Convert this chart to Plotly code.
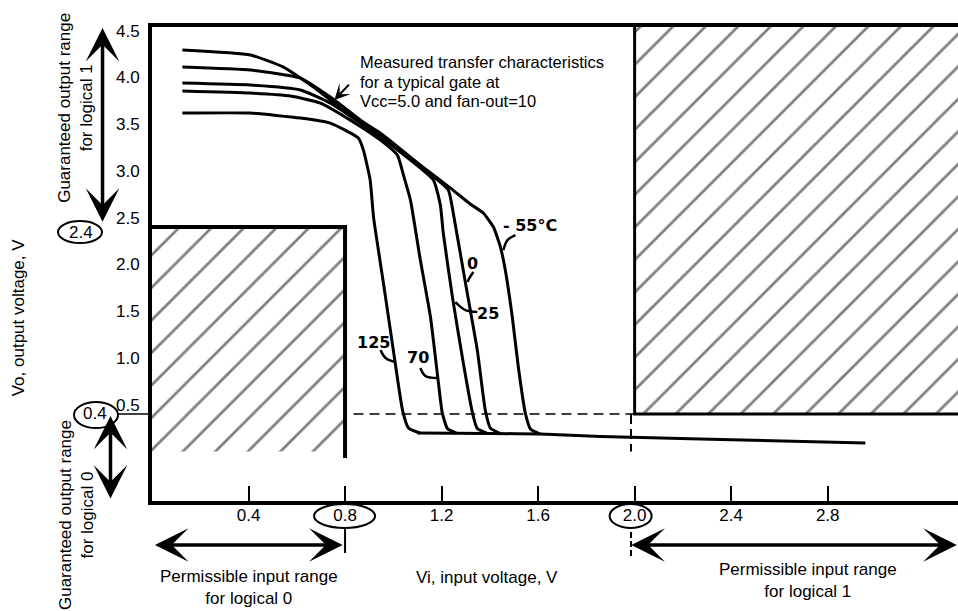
import plotly.graph_objects as go

# ---------------- data ----------------
X_RANGE = [0.0, 3.34]
Y_RANGE = [-0.53, 4.54]

x_tick_vals = [0.4, 0.8, 1.2, 1.6, 2.0, 2.4, 2.8]
x_tick_text = ["0.4", "0.8", "1.2", "1.6", "2.0", "2.4", "2.8"]
y_tick_vals = [0.5, 1.0, 1.5, 2.0, 2.5, 3.0, 3.5, 4.0, 4.5]
y_tick_text = ["0.5", "1.0", "1.5", "2.0", "2.5", "3.0", "3.5", "4.0", "4.5"]

# logic thresholds
VIL, VIH = 0.8, 2.0
VOL, VOH = 0.4, 2.4

# transfer curves (Vi, Vo) per temperature
vi_m55 = [0.126, 0.408, 0.545, 0.686, 0.781, 0.947, 1.112, 1.237, 1.319, 1.373, 1.415,
          1.444, 1.464, 1.493, 1.518, 1.547, 1.568, 1.609]
vo_m55 = [4.293, 4.240, 4.111, 3.866, 3.673, 3.405, 3.063, 2.817, 2.646, 2.550, 2.400,
          2.186, 1.940, 1.438, 0.903, 0.411, 0.240, 0.186]

vi_0 = [0.126, 0.408, 0.615, 0.739, 0.864, 1.029, 1.174, 1.228, 1.257, 1.299, 1.348,
        1.381, 1.402, 1.444]
vo_0 = [4.111, 4.079, 3.994, 3.791, 3.544, 3.224, 2.924, 2.796, 2.421, 1.801, 1.084,
        0.443, 0.250, 0.192]

vi_25 = [0.126, 0.408, 0.615, 0.739, 0.864, 1.029, 1.166, 1.195, 1.207, 1.245, 1.290,
         1.328, 1.348, 1.390]
vo_25 = [3.940, 3.919, 3.866, 3.726, 3.512, 3.202, 2.903, 2.635, 2.336, 1.651, 0.945,
         0.411, 0.245, 0.193]

vi_70 = [0.126, 0.408, 0.574, 0.698, 0.822, 0.947, 1.017, 1.042, 1.071, 1.112, 1.154,
         1.187, 1.203, 1.224, 1.262]
vo_70 = [3.855, 3.833, 3.801, 3.726, 3.544, 3.330, 3.170, 2.956, 2.689, 2.047, 1.438,
         0.732, 0.411, 0.245, 0.194]

vi_125 = [0.126, 0.408, 0.615, 0.739, 0.855, 0.876, 0.904, 0.918, 0.959, 1.000, 1.038,
          1.063, 1.110]
vo_125 = [3.619, 3.619, 3.566, 3.512, 3.352, 3.224, 2.903, 2.507, 1.801, 1.084, 0.443,
          0.250, 0.197]

# common low-output tail shared by all curves
vi_tail = [1.100, 1.400, 1.609, 1.858, 2.272, 2.956]
vo_tail = [0.197, 0.193, 0.186, 0.160, 0.133, 0.090]

# temperature labels and their leader lines
temp_labels = ["- 55°C", "0", "25", "125", "70"]
temp_label_x = [1.565, 1.328, 1.394, 0.918, 1.104]
temp_label_y = [2.421, 2.015, 1.480, 1.170, 1.000]
leader_x = [[1.506, 1.473, 1.456], [1.332, 1.318, 1.307], [1.348, 1.299, 1.257],
            [0.947, 0.968, 1.009], [1.112, 1.133, 1.183]]
leader_y = [[2.314, 2.261, 2.153], [1.919, 1.866, 1.812], [1.491, 1.512, 1.598],
            [1.084, 1.000, 0.956], [0.892, 0.807, 0.785]]

note_lines = ["Measured transfer characteristics", "for a typical gate at",
              "Vcc=5.0 and fan-out=10"]
note_x = 0.855
note_y = [4.166, 3.952, 3.749]

FONT = "Liberation Sans, Arial, Helvetica, sans-serif"
HAND = "DejaVu Sans, sans-serif"

# plot-area geometry (for placing things outside the axes)
ML, MR, MT, MB = 152, 0, 27, 110
W, H = 958, 611
PW, PH = W - ML - MR, H - MT - MB
KX = PW / (X_RANGE[1] - X_RANGE[0])
KY = PH / (Y_RANGE[1] - Y_RANGE[0])


def xp(v):
    return (v - X_RANGE[0]) / (X_RANGE[1] - X_RANGE[0])


def yp(v):
    return (v - Y_RANGE[0]) / (Y_RANGE[1] - Y_RANGE[0])


fig = go.Figure()

# ---------------- hatched regions ----------------
hatch = dict(shape="/", size=23, solidity=0.12, fgcolor="black", bgcolor="white")
fig.add_trace(go.Scatter(x=[0, VIL, VIL, 0, 0], y=[0, 0, VOH, VOH, 0], fill="toself",
                         fillcolor="white", fillpattern=hatch, mode="lines",
                         line=dict(width=0), hoverinfo="skip", showlegend=False))
fig.add_trace(go.Scatter(x=[VIH, X_RANGE[1], X_RANGE[1], VIH, VIH],
                         y=[VOL, VOL, Y_RANGE[1], Y_RANGE[1], VOL], fill="toself",
                         fillcolor="white", fillpattern=hatch, mode="lines",
                         line=dict(width=0), hoverinfo="skip", showlegend=False))
# region borders
fig.add_trace(go.Scatter(x=[0, VIL, VIL], y=[VOH, VOH, -0.07], mode="lines",
                         line=dict(color="black", width=4), hoverinfo="skip", showlegend=False))
fig.add_trace(go.Scatter(x=[VIH, VIH, X_RANGE[1]], y=[Y_RANGE[1], VOL, VOL], mode="lines",
                         line=dict(color="black", width=3), hoverinfo="skip", showlegend=False))
# dashed VOL line and VIH drop
fig.add_trace(go.Scatter(x=[0.835, VIH], y=[VOL, VOL], mode="lines",
                         line=dict(color="black", width=1.5, dash="10px,6px"),
                         hoverinfo="skip", showlegend=False))
fig.add_trace(go.Scatter(x=[VIH - 0.015, VIH - 0.015], y=[VOL, 0.0], mode="lines",
                         line=dict(color="black", width=2, dash="10px,5px"),
                         hoverinfo="skip", showlegend=False))

# ---------------- transfer curves ----------------
for vx, vy, name in [(vi_m55, vo_m55, "-55"), (vi_0, vo_0, "0"), (vi_25, vo_25, "25"),
                     (vi_70, vo_70, "70"), (vi_125, vo_125, "125"),
                     (vi_tail, vo_tail, "tail")]:
    fig.add_trace(go.Scatter(x=vx, y=vy, mode="lines", name=name,
                             line=dict(color="black", width=3, shape="spline", smoothing=0.45),
                             showlegend=False))

for lx, ly in zip(leader_x, leader_y):
    fig.add_trace(go.Scatter(x=lx, y=ly, mode="lines",
                             line=dict(color="black", width=2.5, shape="spline"),
                             hoverinfo="skip", showlegend=False))

annotations = []
for t, x, y in zip(temp_labels, temp_label_x, temp_label_y):
    annotations.append(dict(x=x, y=y, xref="x", yref="y", text="<b>%s</b>" % t,
                            showarrow=False, xanchor="center", yanchor="middle",
                            font=dict(family=HAND, size=16, color="black")))

for t, y in zip(note_lines, note_y):
    annotations.append(dict(x=note_x, y=y, xref="x", yref="y", text=t, showarrow=False,
                            xanchor="left", yanchor="middle",
                            font=dict(family=FONT, size=16.5, color="black")))
# note arrow
annotations.append(dict(x=0.756, y=3.76, ax=0.822, ay=3.94, xref="x", yref="y",
                        axref="x", ayref="y", text="", showarrow=True, arrowhead=3,
                        arrowsize=1.3, arrowwidth=2, arrowcolor="black"))


# ---------------- range arrows (paper coordinates, outside the axes) ----------------
def dbl_arrow(x0, y0, x1, y1):
    return dict(x=xp(x1), y=yp(y1), ax=(x0 - x1) * KX, ay=-(y0 - y1) * KY,
                xref="paper", yref="paper", text="", showarrow=True,
                arrowhead=3, startarrowhead=3, arrowside="end+start",
                arrowsize=1.6, startarrowsize=1.6, arrowwidth=3.5, arrowcolor="black",
                standoff=0, startstandoff=0)


annotations.append(dbl_arrow(-0.205, VOH + 0.04, -0.205, 4.53))
annotations.append(dbl_arrow(-0.172, -0.52, -0.172, VOL - 0.02))
annotations.append(dbl_arrow(0.006, -1.0, VIL - 0.01, -1.0))
annotations.append(dbl_arrow(VIH - 0.02, -1.0, X_RANGE[1] - 0.005, -1.0))


def txt(x, y, t, angle=0, yshift=0):
    return dict(x=xp(x), y=yp(y), xref="paper", yref="paper", text=t, textangle=angle,
                yshift=yshift, showarrow=False, xanchor="center", yanchor="middle",
                font=dict(family=FONT, size=17, color="black"))


annotations += [
    txt(0.40, -1.46, "Permissible input range<br>for logical 0"),
    txt(2.72, -1.375, "Permissible input range<br>for logical 1"),
    txt(1.39, -1.343, "Vi, input voltage, V"),
    txt(-0.553, 1.43, "Vo, output voltage, V", angle=-90),
    txt(-0.317, 3.67, "Guaranteed output range<br>for logical 1", angle=-90),
    txt(-0.315, -0.68, "Guaranteed output range<br>for logical 0", angle=-90),
    txt(-0.296, VOH, "2.4", yshift=-5),
    txt(-0.235, VOL, "0.4", yshift=1),
]

# ---------------- shapes outside the plot ----------------
shapes = [
    # ellipses around x tick labels
    dict(type="circle", xref="x", yref="paper", xsizemode="pixel", ysizemode="pixel",
         xanchor=VIL, yanchor=0, x0=-31, x1=30, y0=-3, y1=-27, line=dict(color="black", width=2)),
    dict(type="circle", xref="x", yref="paper", xsizemode="pixel", ysizemode="pixel",
         xanchor=VIH, yanchor=0, x0=-25, x1=17, y0=-3, y1=-27, line=dict(color="black", width=2)),
    # ellipses around y labels
    dict(type="circle", xref="paper", yref="y", xsizemode="pixel", ysizemode="pixel",
         xanchor=0, yanchor=VOH, x0=-94, x1=-50, y0=-16, y1=6, line=dict(color="black", width=2)),
    dict(type="circle", xref="paper", yref="y", xsizemode="pixel", ysizemode="pixel",
         xanchor=0, yanchor=VOL, x0=-78, x1=-34, y0=-14, y1=12, line=dict(color="black", width=2)),
    # VOL leader to axis
    dict(type="line", xref="paper", yref="y", xsizemode="pixel", xanchor=0, x0=-34, x1=0,
         y0=VOL, y1=VOL, line=dict(color="black", width=1.5)),
    # ticks below ellipses
    dict(type="line", xref="x", yref="paper", ysizemode="pixel", yanchor=0, x0=VIL, x1=VIL,
         y0=-27, y1=-52, line=dict(color="black", width=2)),
    dict(type="line", xref="x", yref="paper", ysizemode="pixel", yanchor=0, x0=VIH - 0.015,
         x1=VIH - 0.015, y0=-31, y1=-55, line=dict(color="black", width=2, dash="6px,3px")),
]

fig.update_layout(
    width=W, height=H,
    margin=dict(l=ML, r=MR, t=MT, b=MB, autoexpand=False),
    paper_bgcolor="white", plot_bgcolor="white",
    font=dict(family=FONT, size=17, color="black"),
    showlegend=False,
    annotations=annotations,
    shapes=shapes,
    xaxis=dict(range=X_RANGE, showline=True, linewidth=4, linecolor="black", mirror=True,
               ticks="inside", ticklen=15, tickwidth=2, tickcolor="black",
               tickvals=x_tick_vals, ticktext=x_tick_text, showgrid=False, zeroline=False,
               tickfont=dict(size=17), fixedrange=True, automargin=False,
               ticklabelstandoff=-4),
    yaxis=dict(range=Y_RANGE, showline=True, linewidth=4, linecolor="black",
               ticks="outside", ticklen=5, tickcolor="rgba(0,0,0,0)",
               tickvals=y_tick_vals, ticktext=y_tick_text, showgrid=False, zeroline=False,
               tickfont=dict(size=17), fixedrange=True, automargin=False),
)

fig.write_html("out.html", config={"displayModeBar": False},
               post_script="document.body.style.margin='0';document.body.style.overflow='hidden';")
